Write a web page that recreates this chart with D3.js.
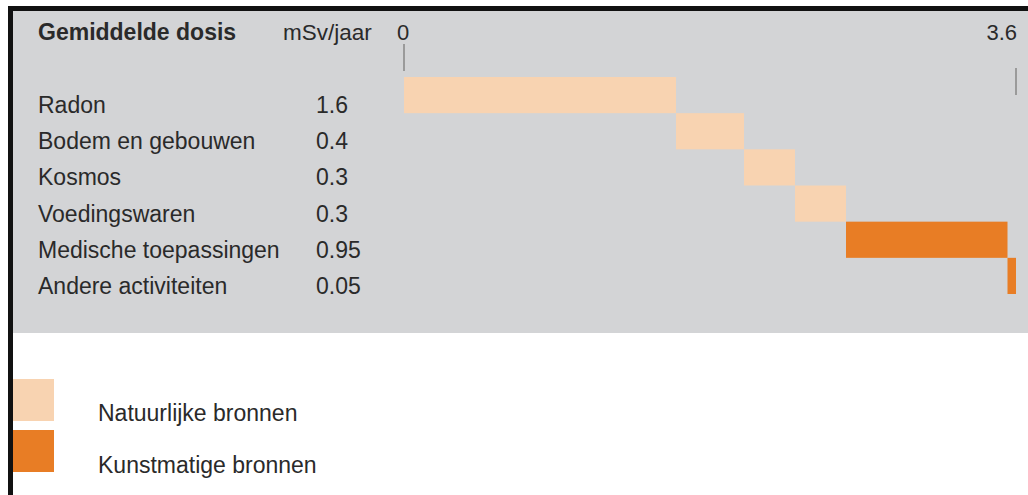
<!DOCTYPE html>
<html>
<head>
<meta charset="utf-8">
<script src="https://cdn.jsdelivr.net/npm/d3@7"></script>
<style>
  html, body { margin: 0; padding: 0; background: #fff; }
  svg { display: block; }
  text { font-family: "Liberation Sans", Arial, Helvetica, sans-serif; fill: #2a2a2a; }
</style>
</head>
<body>
<svg id="chart" width="1028" height="495"></svg>
<script>
// Average yearly radiation dose per source (mSv/jaar)
const sources = ["Radon", "Bodem en gebouwen", "Kosmos", "Voedingswaren", "Medische toepassingen", "Andere activiteiten"];
const doses = [1.6, 0.4, 0.3, 0.3, 0.95, 0.05];
const valueLabels = ["1.6", "0.4", "0.3", "0.3", "0.95", "0.05"];
const kinds = ["natuurlijk", "natuurlijk", "natuurlijk", "natuurlijk", "kunstmatig", "kunstmatig"];
const legendKeys = ["natuurlijk", "kunstmatig"];
const legendLabels = ["Natuurlijke bronnen", "Kunstmatige bronnen"];
const axisTicks = [0, 3.6];
const axisTickLabels = ["0", "3.6"];

const svg = d3.select("#chart");
const W = 1028, H = 495;

// Frame: grey panel with a dark rule on top and left
svg.append("rect").attr("x", 13).attr("y", 11).attr("width", W - 13).attr("height", 322).attr("fill", "#d3d4d6");
svg.append("rect").attr("x", 8).attr("y", 6).attr("width", W - 8).attr("height", 5).attr("fill", "#111");
svg.append("rect").attr("x", 8).attr("y", 6).attr("width", 5).attr("height", H - 6).attr("fill", "#111");

const color = d3.scaleOrdinal().domain(legendKeys).range(["#f8d3b1", "#e87d25"]);

// Waterfall: each bar starts where the previous one ended
const starts = d3.cumsum([0, ...doses]).slice(0, doses.length);
const rows = sources.map((s, i) => ({ name: s, value: doses[i], label: valueLabels[i], kind: kinds[i], start: starts[i] }));

const x = d3.scaleLinear().domain([0, 3.6]).range([404, 1016]);
const y = d3.scaleBand().domain(sources).range([77, 294]).padding(0);

// Header
svg.append("text").attr("x", 38).attr("y", 40).attr("font-size", 23).attr("font-weight", "bold").text("Gemiddelde dosis");
svg.append("text").attr("x", 283).attr("y", 40).attr("font-size", 22.5).text("mSv/jaar");

// Axis end markers
const tickG = svg.append("g");
tickG.selectAll("text").data(axisTicks).join("text")
  .attr("x", (d, i) => i === 0 ? x(d) - 1 : x(d) + 1)
  .attr("y", 40)
  .attr("font-size", 22)
  .attr("text-anchor", (d, i) => i === 0 ? "middle" : "end")
  .text((d, i) => axisTickLabels[i]);
tickG.selectAll("line").data(axisTicks).join("line")
  .attr("x1", d => x(d)).attr("x2", d => x(d))
  .attr("y1", (d, i) => i === 0 ? 44 : 68)
  .attr("y2", (d, i) => i === 0 ? 71 : 95)
  .attr("stroke", "#9a9a9a").attr("stroke-width", 2);

// Bars
svg.append("g").selectAll("rect").data(rows).join("rect")
  .attr("x", d => x(d.start))
  .attr("y", d => y(d.name))
  .attr("width", d => x(d.start + d.value) - x(d.start))
  .attr("height", y.bandwidth())
  .attr("fill", d => color(d.kind));

// Row labels and values
const labelG = svg.append("g");
labelG.selectAll("text.name").data(rows).join("text").attr("class", "name")
  .attr("x", 38)
  .attr("y", d => y(d.name) + y.bandwidth() / 2 + 18)
  .attr("font-size", 23)
  .text(d => d.name);
labelG.selectAll("text.val").data(rows).join("text").attr("class", "val")
  .attr("x", 316)
  .attr("y", d => y(d.name) + y.bandwidth() / 2 + 18)
  .attr("font-size", 23)
  .text(d => d.label);

// Legend
const legend = svg.append("g");
legendKeys.forEach((k, i) => {
  legend.append("rect").attr("x", 13).attr("y", 379 + i * 51).attr("width", 41).attr("height", 42).attr("fill", color(k));
  legend.append("text").attr("x", 98).attr("y", 421 + i * 52).attr("font-size", 23).text(legendLabels[i]);
});
</script>
</body>
</html>
